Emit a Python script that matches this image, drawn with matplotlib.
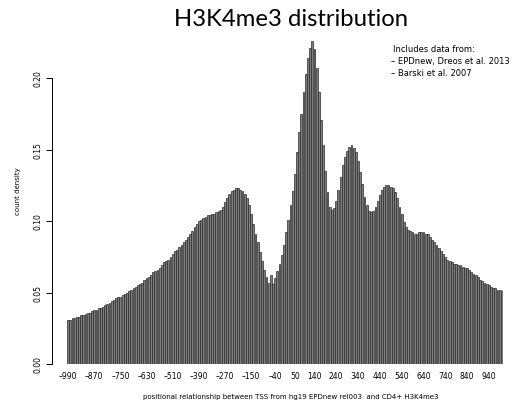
import matplotlib.pyplot as plt

# bar positions (bin labels) and count density
positions = list(range(-990, 1001, 10))
density = [
    0.031, 0.031, 0.032, 0.032, 0.033, 0.033, 0.034, 0.034, 0.035, 0.036,
    0.036, 0.037, 0.038, 0.038, 0.039, 0.039, 0.040, 0.041, 0.042, 0.043,
    0.044, 0.045, 0.046, 0.047, 0.047, 0.048, 0.049, 0.050, 0.051, 0.052,
    0.053, 0.054, 0.055, 0.056, 0.057, 0.059, 0.060, 0.061, 0.062, 0.064,
    0.065, 0.066, 0.067, 0.069, 0.071, 0.072, 0.073, 0.075, 0.077, 0.079,
    0.080, 0.082, 0.083, 0.085, 0.087, 0.089, 0.091, 0.093, 0.096, 0.098,
    0.100, 0.101, 0.102, 0.103, 0.104, 0.104, 0.105, 0.105, 0.106, 0.107,
    0.108, 0.110, 0.113, 0.116, 0.119, 0.121, 0.122, 0.123, 0.123, 0.122,
    0.121, 0.119, 0.116, 0.111, 0.105, 0.098, 0.091, 0.085, 0.078, 0.072,
    0.066, 0.061, 0.057, 0.062, 0.056, 0.060, 0.065, 0.070, 0.076, 0.083,
    0.092, 0.101, 0.111, 0.121, 0.133, 0.148, 0.162, 0.175, 0.190, 0.203,
    0.214, 0.221, 0.226, 0.220, 0.207, 0.190, 0.171, 0.153, 0.135, 0.120,
    0.110, 0.108, 0.109, 0.114, 0.122, 0.131, 0.139, 0.145, 0.149, 0.152,
    0.153, 0.151, 0.148, 0.142, 0.134, 0.126, 0.117, 0.111, 0.107, 0.106,
    0.107, 0.110, 0.114, 0.118, 0.122, 0.124, 0.125, 0.125, 0.124, 0.123,
    0.120, 0.116, 0.110, 0.105, 0.099, 0.096, 0.094, 0.093, 0.092, 0.091,
    0.091, 0.092, 0.092, 0.092, 0.091, 0.091, 0.089, 0.087, 0.085, 0.083,
    0.081, 0.079, 0.077, 0.075, 0.073, 0.072, 0.071, 0.070, 0.070, 0.069,
    0.069, 0.068, 0.067, 0.067, 0.066, 0.064, 0.063, 0.062, 0.061, 0.059,
    0.058, 0.057, 0.056, 0.055, 0.054, 0.053, 0.053, 0.052, 0.052, 0.051,
]
xtick_labels = [-990, -870, -750, -630, -510, -390, -270, -150, -40, 50,
                140, 240, 340, 440, 540, 640, 740, 840, 940]
ytick_values = [0.00, 0.05, 0.10, 0.15, 0.20]

fig = plt.figure(figsize=(5.23, 4.06), dpi=100)
ax = fig.add_axes([67 / 523, 41 / 406, 436 / 523, 336 / 406])

idx = [(p + 990) / 10 for p in positions]
ax.bar(idx, density, width=0.85, color="#7e7e7e", edgecolor="#2a2a2a", linewidth=0.5)

ax.set_xlim(-0.5, len(positions) - 0.5)
ax.set_ylim(0, 0.235)

for s in ["top", "right", "bottom"]:
    ax.spines[s].set_visible(False)
ax.spines["left"].set_position(("outward", 10.8))
ax.spines["left"].set_bounds(0, 0.2)
ax.spines["left"].set_linewidth(0.7)

ax.set_yticks(ytick_values)
ax.set_yticklabels(["%.2f" % v for v in ytick_values], rotation=90, va="center", fontsize=5.5)
ax.tick_params(axis="y", length=4, width=0.7, pad=3)

ax.set_xticks([(v + 990) / 10 for v in xtick_labels])
ax.set_xticklabels([str(v).replace("-", "\u2013") for v in xtick_labels], fontsize=5.5)
ax.tick_params(axis="x", length=0, pad=5)

fig.text(0.035, 0.53, "count density", rotation=90, fontsize=5, ha="center", va="center")
fig.text(0.555, 0.022, "positional relationship between TSS from hg19 EPDnew rel003  and CD4+ H3K4me3",
         fontsize=5, ha="center", va="center")

fig.text(0.556, 0.953, "H3K4me3 distribution", fontsize=17.2, family="Lato",
         ha="center", va="center")
fig.text(0.752, 0.877, "Includes data from:", fontsize=6, ha="left", va="center")
fig.text(0.747, 0.848, "\u2013 EPDnew, Dreos et al. 2013", fontsize=6, ha="left", va="center")
fig.text(0.747, 0.818, "\u2013 Barski et al. 2007", fontsize=6, ha="left", va="center")

fig.savefig("out.png", dpi=100)
